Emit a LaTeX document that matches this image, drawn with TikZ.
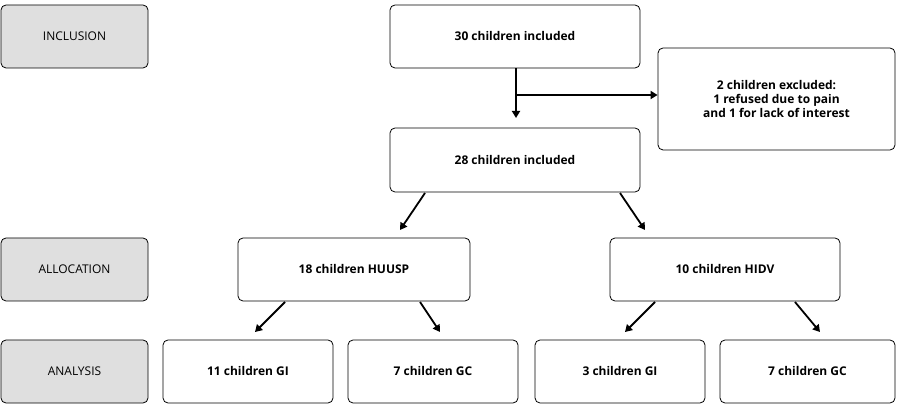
\documentclass[tikz,border=0pt]{standalone}
\usepackage{fontspec}
\setmainfont{Open Sans}
\usetikzlibrary{arrows.meta}
\begin{document}
\begin{tikzpicture}[x=1pt,y=-1pt,
 box/.style={draw,rounded corners=5pt,line width=0.8pt,font=\bfseries\fontsize{12}{14}\selectfont,align=center,inner sep=0pt},
 gbox/.style={box,fill=gray!25,font=\fontsize{12}{14}\selectfont},
 arr/.style={-{Triangle[length=7pt,width=8pt]},line width=1.8pt}]
\useasboundingbox (0,0) rectangle (902,411);
\newcommand\bx[6]{\node[#1,minimum width=#4-#2,minimum height=#5-#3] (#6) at ({(#2+#4)/2},{(#3+#5)/2})}
\bx{gbox}{1}{5}{148}{68}{inc} {INCLUSION};
\bx{gbox}{1}{238}{148}{301}{all} {ALLOCATION};
\bx{gbox}{1}{340}{148}{403}{ana} {ANALYSIS};
\bx{box}{390}{5}{640}{68}{a} {30 children included};
\bx{box}{658}{48}{895}{150}{ex} {2 children excluded:\\1 refused due to pain\\and 1 for lack of interest};
\bx{box}{390}{128}{640}{192}{b} {28 children included};
\bx{box}{238}{238}{470}{301}{h} {18 children HUUSP};
\bx{box}{610}{238}{840}{301}{d} {10 children HIDV};
\bx{box}{163}{340}{333}{403}{g1} {11 children GI};
\bx{box}{348}{340}{518}{403}{g2} {7 children GC};
\bx{box}{535}{340}{705}{403}{g3} {3 children GI};
\bx{box}{720}{340}{895}{403}{g4} {7 children GC};
\coordinate (m) at (516,95);
\draw[arr] (a.south -| m) -- (516,118);
\draw[arr] (m) -- (ex.west |- m);
\draw[arr] (425,193) -- (400,230);
\draw[arr] (620,193) -- (645,230);
\draw[arr] (285,302) -- (255,332);
\draw[arr] (420,302) -- (440,332);
\draw[arr] (655,302) -- (625,332);
\draw[arr] (795,302) -- (820,332);
\end{tikzpicture}
\end{document}
